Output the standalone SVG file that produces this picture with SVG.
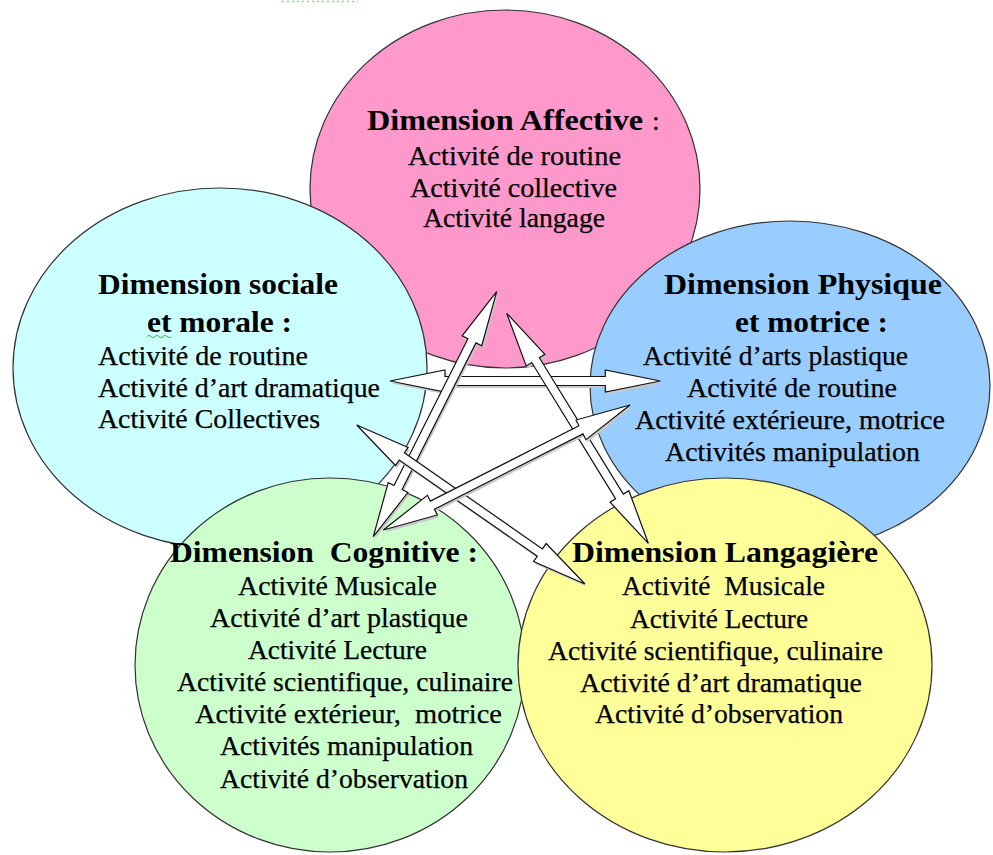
<svg xmlns="http://www.w3.org/2000/svg" width="993" height="855" viewBox="0 0 993 855">
<style>
.ell{stroke:#333;stroke-width:1.2}
.t{font-family:"Liberation Serif","Times New Roman","DejaVu Serif",serif;font-size:27.5px;fill:#000;stroke:#000;stroke-width:0.25}
.b{font-family:"Liberation Serif","Times New Roman","DejaVu Serif",serif;font-size:30px;font-weight:bold;fill:#000}
.arr{fill:#fff;stroke:#111;stroke-width:1.2;stroke-linejoin:miter}
.sh{fill:#c8c8c8;stroke:none}
</style>
<rect width="993" height="855" fill="#fff"/>
<path d="M282 1.5 H358" stroke="#9c9" stroke-width="1.5" stroke-dasharray="2,3" fill="none"/>

<g id="affective">
<ellipse class="ell" cx="505" cy="189" rx="195" ry="179" fill="#FF99CC"/>
<text class="b" x="367" y="130" textLength="276" lengthAdjust="spacingAndGlyphs">Dimension Affective</text>
<text class="t" x="652" y="130">:</text>
<text class="t" x="408" y="165" textLength="213" lengthAdjust="spacingAndGlyphs">Activité de routine</text>
<text class="t" x="410" y="197" textLength="207" lengthAdjust="spacingAndGlyphs">Activité collective</text>
<text class="t" x="423" y="227" textLength="182" lengthAdjust="spacingAndGlyphs">Activité langage</text>
</g>

<g id="sociale">
<ellipse class="ell" cx="220" cy="368" rx="207" ry="180" fill="#CCFFFF"/>
<text class="b" x="98" y="294" textLength="240" lengthAdjust="spacingAndGlyphs">Dimension sociale</text>
<text class="b" x="147" y="332" textLength="145" lengthAdjust="spacingAndGlyphs">et morale :</text>
<path d="M147 336.5 q2 -2.5 4 0 t4 0 t4 0 t4 0 t4 0 t4 0" stroke="#4b4" stroke-width="1" fill="none"/>
<text class="t" x="98" y="365" textLength="210" lengthAdjust="spacingAndGlyphs">Activité de routine</text>
<text class="t" x="98" y="397" textLength="282" lengthAdjust="spacingAndGlyphs">Activité d’art dramatique</text>
<text class="t" x="98" y="428" textLength="222" lengthAdjust="spacingAndGlyphs">Activité Collectives</text>
</g>

<g id="physique">
<ellipse class="ell" cx="790" cy="386" rx="200" ry="165" fill="#99CCFF"/>
<text class="b" x="664" y="294" textLength="278" lengthAdjust="spacingAndGlyphs">Dimension Physique</text>
<text class="b" x="735" y="332" textLength="153" lengthAdjust="spacingAndGlyphs">et motrice :</text>
<text class="t" x="643" y="365" textLength="265" lengthAdjust="spacingAndGlyphs">Activité d’arts plastique</text>
<text class="t" x="687" y="397" textLength="210" lengthAdjust="spacingAndGlyphs">Activité de routine</text>
<text class="t" x="635" y="429" textLength="310" lengthAdjust="spacingAndGlyphs">Activité extérieure, motrice</text>
<text class="t" x="665" y="461" textLength="255" lengthAdjust="spacingAndGlyphs">Activités manipulation</text>
</g>

<g id="cognitive">
<ellipse class="ell" cx="330" cy="665" rx="195" ry="187" fill="#CCFFCC"/>
<text class="b" x="170" y="562" textLength="308" lengthAdjust="spacingAndGlyphs" xml:space="preserve">Dimension  Cognitive :</text>
<text class="t" x="238" y="595" textLength="199" lengthAdjust="spacingAndGlyphs">Activité Musicale</text>
<text class="t" x="210" y="627" textLength="258" lengthAdjust="spacingAndGlyphs">Activité d’art plastique</text>
<text class="t" x="248" y="659" textLength="179" lengthAdjust="spacingAndGlyphs">Activité Lecture</text>
<text class="t" x="177" y="691" textLength="336" lengthAdjust="spacingAndGlyphs">Activité scientifique, culinaire</text>
<text class="t" x="195" y="723" textLength="307" lengthAdjust="spacingAndGlyphs" xml:space="preserve">Activité extérieur,  motrice</text>
<text class="t" x="220" y="755" textLength="253" lengthAdjust="spacingAndGlyphs">Activités manipulation</text>
<text class="t" x="220" y="788" textLength="248" lengthAdjust="spacingAndGlyphs">Activité d’observation</text>
</g>

<g id="langagiere">
<ellipse class="ell" cx="725" cy="665" rx="207" ry="187" fill="#FFFF99"/>
<text class="b" x="572" y="562" textLength="306" lengthAdjust="spacingAndGlyphs">Dimension Langagière</text>
<text class="t" x="622" y="595" textLength="203" lengthAdjust="spacingAndGlyphs" xml:space="preserve">Activité  Musicale</text>
<text class="t" x="630" y="628" textLength="178" lengthAdjust="spacingAndGlyphs">Activité Lecture</text>
<text class="t" x="548" y="660" textLength="335" lengthAdjust="spacingAndGlyphs">Activité scientifique, culinaire</text>
<text class="t" x="580" y="692" textLength="282" lengthAdjust="spacingAndGlyphs">Activité d’art dramatique</text>
<text class="t" x="595" y="723" textLength="248" lengthAdjust="spacingAndGlyphs">Activité d’observation</text>
</g>

<g id="connectors">
<g transform="translate(390,381)">
<polygon class="sh" transform="translate(1.5,2.5)" points="0,0 55,-11 55,-4.5 215.3,-4.5 215.3,-11 270.3,0 215.3,11 215.3,4.5 55,4.5 55,11"/>
<polygon class="arr" points="0,0 55,-11 55,-4.5 215.3,-4.5 215.3,-11 270.3,0 215.3,11 215.3,4.5 55,4.5 55,11"/>
</g>
<g transform="translate(373.3,536.7) rotate(-63.27)">
<polygon class="sh" transform="rotate(63.27) translate(1.5,2.5) rotate(-63.27)" points="0,0 55,-11 55,-4.5 219.3,-4.5 219.3,-11 274.3,0 219.3,11 219.3,4.5 55,4.5 55,11"/>
<polygon class="arr" points="0,0 55,-11 55,-4.5 219.3,-4.5 219.3,-11 274.3,0 219.3,11 219.3,4.5 55,4.5 55,11"/>
</g>
<g transform="translate(506.7,313.3) rotate(58.38)">
<polygon class="sh" transform="rotate(-58.38) translate(1.5,2.5) rotate(58.38)" points="0,0 55,-11 55,-4.5 215.1,-4.5 215.1,-11 270.1,0 215.1,11 215.1,4.5 55,4.5 55,11"/>
<polygon class="arr" points="0,0 55,-11 55,-4.5 215.1,-4.5 215.1,-11 270.1,0 215.1,11 215.1,4.5 55,4.5 55,11"/>
</g>
<g transform="translate(356.7,425) rotate(34.86)">
<polygon class="sh" transform="rotate(-34.86) translate(1.5,2.5) rotate(34.86)" points="0,0 55,-11 55,-4.5 223.2,-4.5 223.2,-11 278.2,0 223.2,11 223.2,4.5 55,4.5 55,11"/>
<polygon class="arr" points="0,0 55,-11 55,-4.5 223.2,-4.5 223.2,-11 278.2,0 223.2,11 223.2,4.5 55,4.5 55,11"/>
</g>
<g transform="translate(383.3,530) rotate(-26.87)">
<polygon class="sh" transform="rotate(26.87) translate(1.5,2.5) rotate(-26.87)" points="0,0 55,-11 55,-4.5 221.6,-4.5 221.6,-11 276.6,0 221.6,11 221.6,4.5 55,4.5 55,11"/>
<polygon class="arr" points="0,0 55,-11 55,-4.5 221.6,-4.5 221.6,-11 276.6,0 221.6,11 221.6,4.5 55,4.5 55,11"/>
</g>
</g>
</svg>
